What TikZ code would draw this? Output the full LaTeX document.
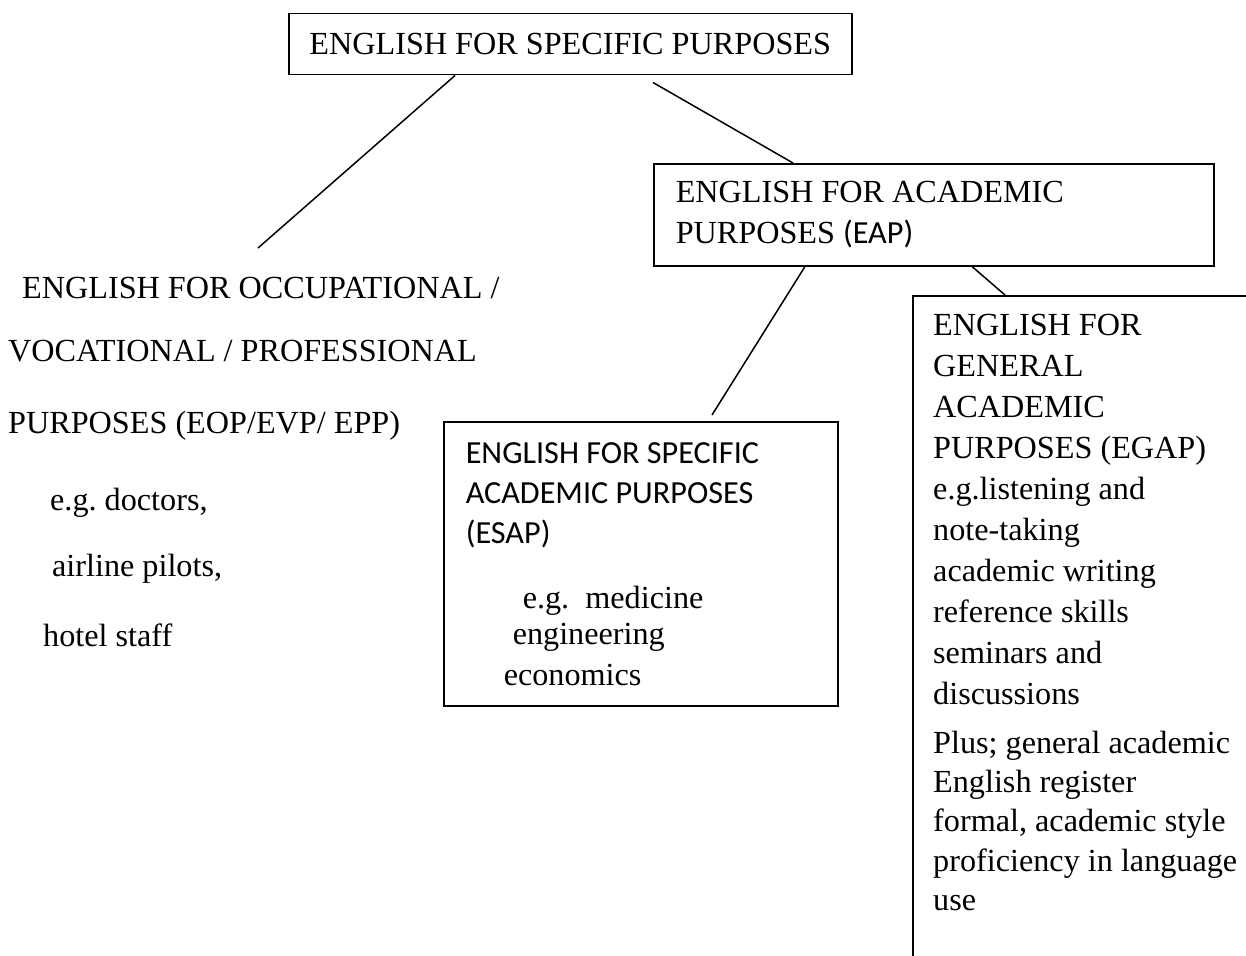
\documentclass[tikz,border=0pt]{standalone}
\usepackage{fontspec}
\setmainfont{Liberation Serif}
\newfontfamily\carlito{Carlito}
\usetikzlibrary{positioning}
\frenchspacing

\tikzset{
  box/.style={draw, line width=1.5pt, inner sep=0pt, anchor=north west},
  body/.style={font=\fontsize{32.2}{41}\selectfont, inner sep=0pt, align=flush left},
  link/.style={line width=1.5pt},
}
\newcommand{\calibritext}{\carlito\fontsize{32.2}{40}\selectfont}

\begin{document}
\begin{tikzpicture}[x=1pt,y=-1pt]
    \useasboundingbox (0,0) rectangle (1246,955);
    \clip (0,0) rectangle (1246,955);
    % boxes
    \node[box, body, align=center, minimum width=563pt, minimum height=61pt] (esp) at (288,13) {ENGLISH FOR SPECIFIC PURPOSES};
    \node[box, body, minimum width=560pt, minimum height=102pt, text width=516pt] (eap) at (653,163)
        {ENGLISH FOR ACADEMIC\\PURPOSES {\calibritext (EAP)}};
    \node[box, body, minimum width=394pt, minimum height=284pt, text width=350pt] (esap) at (443,421)
        {\calibritext ENGLISH FOR SPECIFIC\\
         ACADEMIC PURPOSES\\
         (ESAP)\\[24pt]
         \rmfamily\fontsize{32.2}{41}\selectfont
         \hspace*{57pt}e.g.\ \ medicine\\[-5pt]
         \hspace*{47pt}engineering\\
         \hspace*{38pt}economics};
    \node[box, minimum width=450pt, minimum height=750pt] (egap) at (912,295) {};
    \node[body, anchor=north west] (egaptext) at ([xshift=21pt,yshift=-19pt]egap.north west)
        {ENGLISH FOR\\GENERAL\\ACADEMIC\\PURPOSES (EGAP)\\e.g.listening and\\note-taking\\
         academic writing\\reference skills\\seminars and\\discussions\\[8pt]
         Plus; general academic\\[-2pt]English register\\[-2pt]formal, academic style\\[-1pt]
         proficiency in language\\[-2pt]use};
    % free text on the left
    \node[body, anchor=north west] (eop) at (8,277)
        {\hspace*{14pt}ENGLISH FOR OCCUPATIONAL /\\[22pt]
         VOCATIONAL / PROFESSIONAL\\[31pt]
         PURPOSES (EOP/EVP/ EPP)\\[36pt]
         \hspace*{42pt}e.g. doctors,\\[25pt]
         \hspace*{44pt}airline pilots,\\[29pt]
         \hspace*{35pt}hotel staff};
    % connectors
    \coordinate (eoptip) at (258,248);
    \draw[link] ([xshift=167pt]esp.south west) -- (eoptip);
    \draw[link] ([xshift=365pt,yshift=-7pt]esp.south west) -- ([xshift=140pt]eap.north west);
    \draw[link] ([xshift=152pt]eap.south west) -- ([xshift=269pt,yshift=6pt]esap.north west);
    \draw[link] ([xshift=319pt]eap.south west) -- ([xshift=93pt]egap.north west);
\end{tikzpicture}
\end{document}
